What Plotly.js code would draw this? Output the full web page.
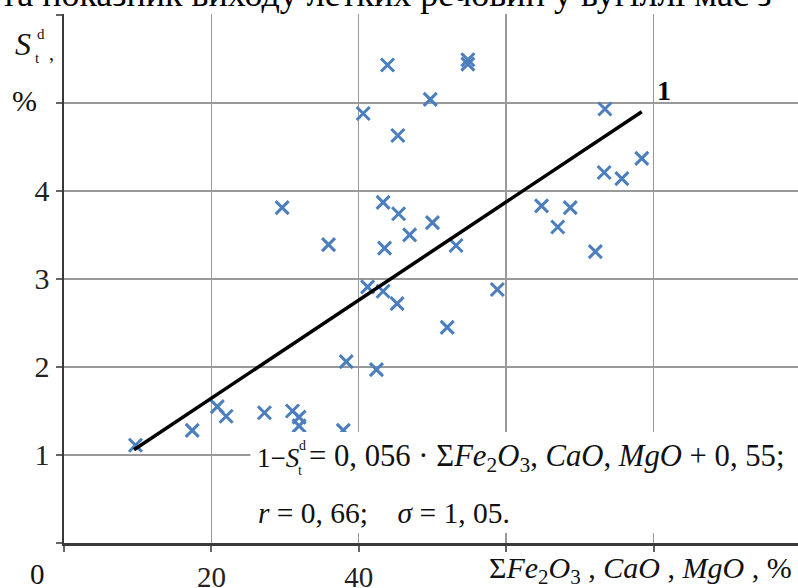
<!DOCTYPE html>
<html>
<head>
<meta charset="utf-8">
<script src="https://cdn.plot.ly/plotly-3.0.1.min.js"></script>
<style>html,body{margin:0;padding:0;background:#fff;}#chart{width:798px;height:588px;}</style>
</head>
<body>
<div id="chart"></div>
<script>
// ΣFe2O3, CaO, MgO (%) and S_t^d (%)
const sumOxides = [9.7,17.4,20.8,22.0,27.2,31.0,31.9,31.9,37.9,
  29.6,35.9,43.3,45.4,50.0,46.9,43.5,53.2,41.2,43.3,45.2,58.8,52.0,38.3,42.4,
  43.9,54.8,54.8,49.7,40.6,45.3,
  73.4,78.4,73.3,75.7,64.8,68.7,67.0,72.1];
const sulfur = [1.11,1.28,1.55,1.44,1.48,1.50,1.43,1.33,1.28,
  3.81,3.39,3.87,3.74,3.64,3.50,3.35,3.38,2.91,2.86,2.72,2.88,2.45,2.06,1.97,
  5.43,5.49,5.44,5.04,4.88,4.63,
  4.93,4.37,4.21,4.14,3.83,3.81,3.59,3.31];
// regression line end points
const fitX = [9.5, 78.4];
const fitY = [1.06, 4.90];
// tick labels
const yTickVals = [0, 1, 2, 3, 4, 5, 6];
const yTickText = ['', '1', '2', '3', '4', '', ''];
const xTickVals = [0, 20, 40, 60, 80];
const xTickText = ['', '20', '40', '', ''];

const L = 63.5, T = 14, B = 45, W = 798, H = 588;
const PW = W - L, PH = H - T - B;
const px = p => (p - L) / PW;
const py = p => (H - B - p) / PH;
const SERIF = '"Liberation Serif", "Times New Roman", serif';
const TXT = '#111';

const traces = [
  {x: sumOxides, y: sulfur, type: 'scatter', mode: 'markers',
   marker: {symbol: 'x-thin-open', size: 13, line: {width: 3, color: '#4a7ebf'}, color: '#4a7ebf'},
   hoverinfo: 'skip', showlegend: false},
  {x: fitX, y: fitY, type: 'scatter', mode: 'lines',
   line: {color: '#000', width: 3.5}, hoverinfo: 'skip', showlegend: false}
];

function ann(text, x, y, size, opts) {
  return Object.assign({text: text, xref: 'paper', yref: 'paper', x: px(x), y: py(y), showarrow: false,
    font: {family: SERIF, size: size, color: TXT}, xanchor: 'center', yanchor: 'middle'}, opts || {});
}

const annotations = [
  ann('та показник виходу летких речовин у вугіллі має з', -2, -6, 36, {xanchor: 'left', font: {family: SERIF, size: 36, color: '#000'}}),
  ann('<i>S</i>', 22, 44, 32),
  ann('d', 40, 34, 15),
  ann('t', 37, 58, 15),
  ann(',', 51, 53, 20),
  ann('%', 24, 100, 30),
  ann('0', 37, 574, 29),
  ann('<b>1</b>', 664, 91, 28, {font: {family: SERIF, size: 28, color: '#000'}}),
  ann('1−<i>S</i>', 255, 458, 27, {xanchor: 'left'}),
  ann('d', 302, 445, 14),
  ann('t', 300, 470, 14),
  ann('= 0, 056 · Σ<i>Fe</i><sub>2</sub><i>O</i><sub>3</sub>, <i>CaO</i>, <i>MgO</i> + 0, 55;', 307, 458, 30.7, {xanchor: 'left'}),
  ann('<i>r</i> = 0, 66;    <i>σ</i> = 1, 05.', 256, 513, 29.5, {xanchor: 'left'}),
  ann('Σ<i>Fe</i><sub>2</sub><i>O</i><sub>3</sub> , <i>CaO</i> , <i>MgO</i> , %', 487, 570, 30, {xanchor: 'left'})
];

const layout = {
  width: W, height: H,
  margin: {l: L, r: 0, t: T, b: B, pad: 0},
  paper_bgcolor: '#fff', plot_bgcolor: '#fff',
  showlegend: false,
  xaxis: {range: [0, 99.6], tickvals: xTickVals, ticktext: xTickText,
    showgrid: true, gridcolor: '#999', gridwidth: 1.4, zeroline: false,
    showline: true, linecolor: '#3a3a3a', linewidth: 3,
    ticks: 'outside', ticklen: 6, tickwidth: 2, tickcolor: '#666',
    tickfont: {family: SERIF, size: 29, color: '#222'}, fixedrange: true},
  yaxis: {range: [0, 6.01], tickvals: yTickVals, ticktext: yTickText,
    showgrid: true, gridcolor: '#999', gridwidth: 1.4, zeroline: false,
    showline: true, linecolor: '#3a3a3a', linewidth: 2.5,
    ticks: 'outside', ticklen: 6, tickwidth: 2, tickcolor: '#666',
    tickfont: {family: SERIF, size: 30, color: '#222'}, fixedrange: true},
  shapes: [
    {type: 'rect', xref: 'paper', yref: 'paper', x0: px(250), x1: 1.01, y0: py(533), y1: py(432),
     fillcolor: '#fff', line: {width: 0}, layer: 'above'}
  ],
  annotations: annotations
};

Plotly.newPlot('chart', traces, layout, {staticPlot: true, displayModeBar: false});
</script>
</body>
</html>
